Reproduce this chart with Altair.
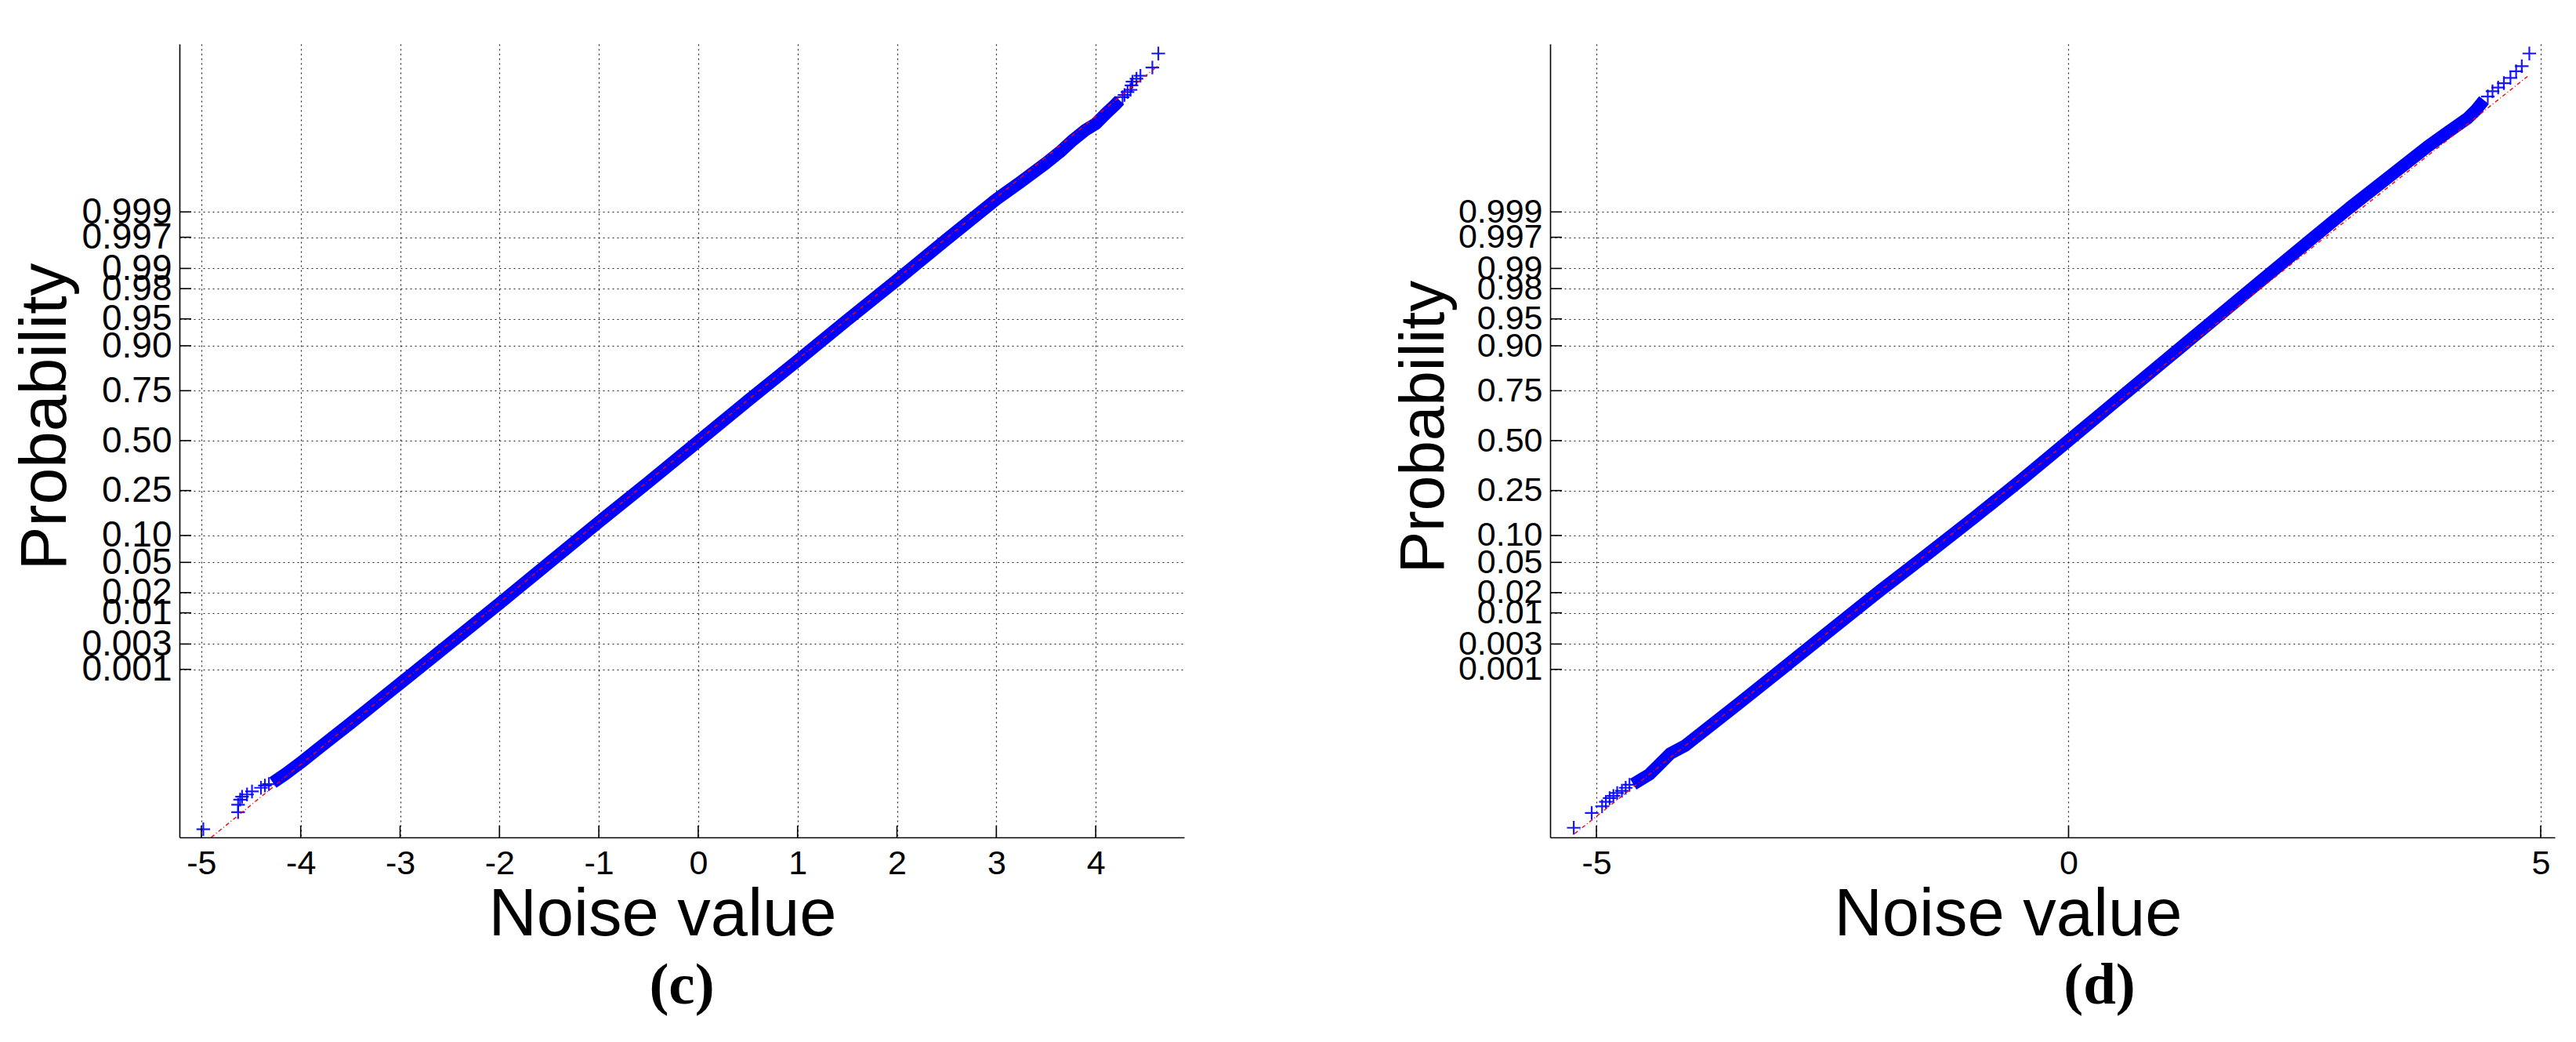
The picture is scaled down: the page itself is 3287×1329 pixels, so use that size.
import json
from statistics import NormalDist

import altair as alt
import pandas as pd

# ---------------- data ----------------
prob_ticks = [0.001, 0.003, 0.01, 0.02, 0.05, 0.10, 0.25, 0.50, 0.75, 0.90,
              0.95, 0.98, 0.99, 0.997, 0.999]
prob_labels = ["0.001", "0.003", "0.01", "0.02", "0.05", "0.10", "0.25", "0.50",
               "0.75", "0.90", "0.95", "0.98", "0.99", "0.997", "0.999"]

# panel (c)
c_band_x = [-4.28, -4.15, -4.00, -3.85, -3.70, -3.50, -3.00, -2.50, -2.00, -1.50,
            -1.00, -0.50, 0.00, 0.50, 1.00, 1.50, 2.00, 2.50, 3.00, 3.24,
            3.50, 3.64, 3.77, 3.90, 4.00, 4.11, 4.19, 4.24]
c_band_z = [-4.62, -4.50, -4.35, -4.19, -4.03, -3.82, -3.28, -2.74, -2.20, -1.65,
            -1.10, -0.56, -0.01, 0.54, 1.08, 1.63, 2.17, 2.72, 3.26, 3.49,
            3.75, 3.90, 4.06, 4.20, 4.28, 4.43, 4.53, 4.60]
c_tail_x = [-4.98, -4.63, -4.63, -4.61, -4.59, -4.54, -4.49, -4.40, -4.36, -4.32,
            4.27, 4.29, 4.32, 4.35, 4.36, 4.37, 4.41, 4.45, 4.57, 4.63]
c_tail_z = [-5.25, -5.02, -4.92, -4.85, -4.81, -4.78, -4.74, -4.69, -4.66, -4.64,
            4.64, 4.67, 4.71, 4.74, 4.80, 4.85, 4.89, 4.93, 5.04, 5.23]
c_ref_x = [-4.90, 4.64]
c_ref_z = [-5.36, 5.08]
c_xticks = [-5, -4, -3, -2, -1, 0, 1, 2, 3, 4]
c_xdomain = [-5.22, 4.89]

# panel (d)
d_band_x = [-4.61, -4.44, -4.36, -4.22, -4.06, -3.50, -3.00, -2.50, -2.00, -1.50,
            -1.00, -0.50, 0.00, 0.50, 1.00, 1.50, 2.00, 2.56, 2.98, 3.40,
            3.81, 4.02, 4.23, 4.31, 4.40]
d_band_z = [-4.64, -4.51, -4.41, -4.23, -4.12, -3.56, -3.05, -2.54, -2.03, -1.54,
            -1.04, -0.53, 0.00, 0.53, 1.06, 1.59, 2.12, 2.71, 3.15, 3.57,
            3.98, 4.17, 4.36, 4.46, 4.60]
d_tail_x = [-5.24, -5.05, -4.94, -4.90, -4.86, -4.82, -4.78, -4.73, -4.69, -4.65,
            4.44, 4.49, 4.55, 4.61, 4.68, 4.74, 4.80, 4.88]
d_tail_z = [-5.23, -5.03, -4.94, -4.88, -4.83, -4.80, -4.76, -4.73, -4.69, -4.65,
            4.65, 4.72, 4.77, 4.83, 4.90, 4.99, 5.06, 5.23]
d_ref_x = [-5.23, 4.86]
d_ref_z = [-5.31, 4.92]
d_xticks = [-5, 0, 5]
d_xdomain = [-5.49, 5.15]

y_domain = [-5.36, 5.36]

# probability ticks sit at the normal quantiles of the probabilities
z_ticks = [round(NormalDist().inv_cdf(p), 4) for p in prob_ticks]

W, H = 1282, 1012
SANS = "Liberation Sans"
BLUE = "#0000ff"


def panel(band_x, band_z, tail_x, tail_z, ref_x, ref_z, xticks, xdomain, caption,
          ylabel_size, ytitle_size, ytitle_shift, xtitle_shift, caption_dx):
    xs = alt.Scale(domain=xdomain, nice=False, zero=False)
    ys = alt.Scale(domain=y_domain, nice=False, zero=False)
    label_expr = "%s[indexof(%s, datum.value)]" % (json.dumps(prob_labels), json.dumps(z_ticks))

    xaxis = alt.Axis(values=xticks, grid=True, gridDash=[2, 4], gridColor="#000000",
                     gridWidth=1.2, gridOpacity=0.85, ticks=False, labelPadding=12,
                     labelFont=SANS, labelFontSize=43, labelColor="black",
                     labelExpr="'' + datum.value", labelOverlap=False, labelFlush=False,
                     title="Noise value", titleFont=SANS, titleFontSize=85,
                     titleFontWeight="normal", titleColor="black", titlePadding=2,
                     titleX=W / 2 + xtitle_shift,
                     domainColor="black", domainWidth=1.6)
    yaxis = alt.Axis(values=z_ticks, grid=True, gridDash=[2, 4], gridColor="#000000",
                     gridWidth=1.2, gridOpacity=0.85, ticks=False, labelPadding=10,
                     labelFont=SANS, labelFontSize=ylabel_size, labelColor="black",
                     labelExpr=label_expr, labelOverlap=False, labelFlush=False,
                     labelBound=False,
                     title="Probability", titleFont=SANS, titleFontSize=ytitle_size,
                     titleFontWeight="normal", titleColor="black", titlePadding=2,
                     titleY=H / 2 + ytitle_shift,
                     domainColor="black", domainWidth=1.6)

    X = alt.X("x:Q", scale=xs, axis=xaxis)
    Y = alt.Y("z:Q", scale=ys, axis=yaxis)

    band_df = pd.DataFrame({"x": band_x, "z": band_z})
    tail_df = pd.DataFrame({"x": tail_x, "z": tail_z})
    ref_df = pd.DataFrame({"x": ref_x, "z": ref_z})
    xt_df = pd.DataFrame({"x": xticks})
    yt_df = pd.DataFrame({"z": z_ticks})

    band = alt.Chart(band_df).mark_line(color=BLUE, strokeWidth=16, strokeCap="butt",
                                        strokeJoin="round").encode(x=X, y=Y)
    crosses = alt.Chart(tail_df).mark_point(shape="M-1,0L1,0M0,-1L0,1", filled=False,
                                            size=300, strokeWidth=2.2, color=BLUE,
                                            opacity=0.9).encode(x=X, y=Y)
    ref = alt.Chart(ref_df).mark_line(color="#ff0000", strokeWidth=1.4,
                                      strokeDash=[5, 3, 1, 3], clip=True).encode(x=X, y=Y)
    xt = alt.Chart(xt_df).mark_rule(color="black", strokeWidth=1.6).encode(
        x=X, y=alt.value(H), y2=alt.value(H - 15),
    )
    yt = alt.Chart(yt_df).mark_rule(color="black", strokeWidth=1.6).encode(
        y=Y, x=alt.value(0), x2=alt.value(15),
    )
    return alt.layer(band, crosses, ref, xt, yt).properties(
        width=W, height=H,
        title=alt.TitleParams(caption, orient="bottom", anchor="middle",
                              font="Liberation Serif", fontSize=75, fontWeight="bold",
                              color="black", offset=12, dx=caption_dx),
    )


left = panel(c_band_x, c_band_z, c_tail_x, c_tail_z, c_ref_x, c_ref_z, c_xticks,
             c_xdomain, "(c)", 46, 84, -31, -25, 0)
right = panel(d_band_x, d_band_z, d_tail_x, d_tail_z, d_ref_x, d_ref_z, d_xticks,
              d_xdomain, "(d)", 43, 80, -18, -57, 60)

chart = alt.hconcat(left, right, spacing=266).properties(
    padding={"left": 8, "top": 47, "right": 5, "bottom": 5},
    background="white",
).configure_view(strokeWidth=0)

chart.save("out.html", embed_options={"renderer": "svg", "actions": False})
